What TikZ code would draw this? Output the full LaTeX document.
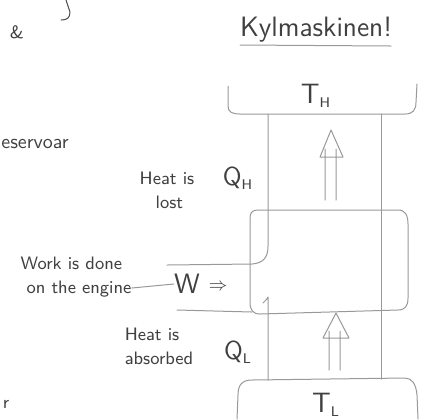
\documentclass[tikz,border=0pt]{standalone}
\usetikzlibrary{calc}

\tikzset{
  pencil/.style={draw=black!40, line width=0.5pt, line cap=round},
  hand/.style={text=black!75, inner sep=0pt, font=\sffamily\fontsize{9}{11}\selectfont, align=left},
  big/.style={hand, font=\sffamily\fontsize{14}{16}\selectfont},
}

\begin{document}
\begin{tikzpicture}[x=0.5pt,y=-0.5pt,join=round]
    \useasboundingbox (0,0) rectangle (426,419);
    \fill[white] (0,0) rectangle (426,419);
    % scraps from the page before
    \draw[pencil,draw=black!70] (66,0)--(70,12) .. controls (70,18) and (67,20) .. (61,20);
    \node[hand] (amp) at (17,32) {\&};
    \node[hand,anchor=west,font=\sffamily\fontsize{10}{12}\selectfont] (res) at (1,144) {eservoar};
    \node[hand] (rr) at (6,404) {r};
    % heading
    \node[hand,font=\sffamily\fontsize{14}{16}\selectfont] (title) at (316,30) {Kylmaskinen!};
    \draw[pencil] (240,45)--(391,46);
    % hot reservoir
    \draw[pencil] (228,86)--(228,106) .. controls (228,112) and (232,114) .. (240,114)--(405,114) .. controls (413,114) and (416,110) .. (416,102)--(417,84);
    \node[big] (TH) at (316,96) {T\textsubscript{\scriptsize H}};
    % cold reservoir
    \draw[pencil] (237,419)--(238,395) .. controls (238,385) and (242,380) .. (252,380)--(405,378) .. controls (412,378) and (416,384) .. (417,395)--(418,419);
    \node[big] (TL) at (326,405) {T\textsubscript{\scriptsize L}};
    % engine
    \draw[pencil] (258,210)--(398,210) .. controls (405,210) and (408,215) .. (408,224)--(408,298) .. controls (408,306) and (405,310) .. (398,310)--(260,314) .. controls (253,314) and (250,310) .. (250,302)--(250,218) .. controls (250,212) and (253,210) .. (258,210);
    % channels between the reservoirs
    \draw[pencil] (268,114)--(268,246) .. controls (268,258) and (263,263) .. (252,264)--(167,265);
    \draw[pencil] (263,303) .. controls (266,300) and (268,298) .. (268,297)--(268,380);
    \draw[pencil] (381,114)--(381,379);
    \draw[pencil] (177,310)--(252,312);
    % heat arrows
    \draw[pencil] (325,200)--(325,149) (336,200)--(336,149) (331,130)--(320,157)--(343,157)--cycle;
    \draw[pencil] (329,370)--(329,331) (340,370)--(340,331) (336,313)--(323,338)--(349,338)--cycle;
    % labels
    \node[hand] (lost) at (167,190) {Heat is\\[1pt]\hspace*{8pt}lost};
    \node[big,font=\sffamily\fontsize{13}{15}\selectfont] (QH) at (238,178) {Q\textsubscript{\scriptsize H}};
    \node[hand] (absorbed) at (159,346) {Heat is\\[1pt]absorbed};
    \node[big,font=\sffamily\fontsize{13}{15}\selectfont] (QL) at (238,352) {Q\textsubscript{\scriptsize L}};
    \node[hand] (work) at (76,277) {Work is done\\[1pt]\hspace*{3pt}on the engine};
    \node[big] (W) at (187,284) {W};
    \node[hand] (in) at (218,287) {$\Rightarrow$};
    \draw[pencil] (work.east |- 0,288)--(W.west);
\end{tikzpicture}
\end{document}
